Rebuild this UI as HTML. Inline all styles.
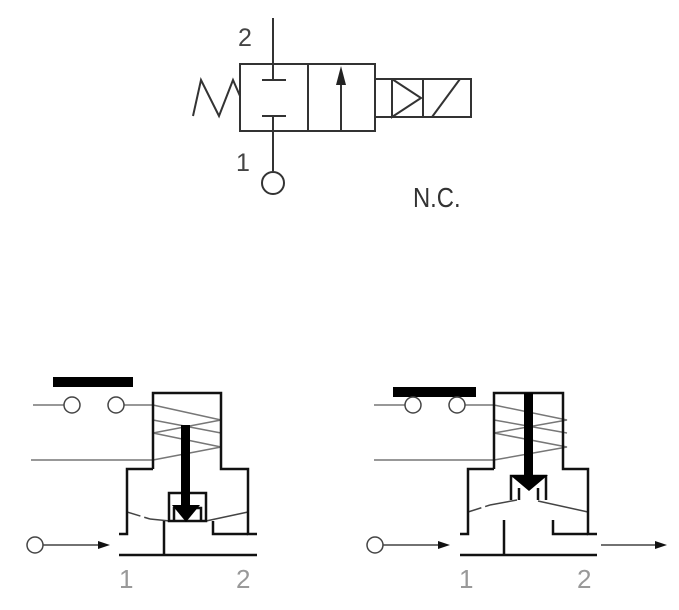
<!DOCTYPE html>
<html><head><meta charset="utf-8"><style>
html,body{margin:0;padding:0;background:#fff;width:679px;height:610px;overflow:hidden}
svg{display:block}
text{font-family:"Liberation Sans",sans-serif}
</style></head><body>
<svg width="679" height="610" viewBox="0 0 679 610" xmlns="http://www.w3.org/2000/svg">
<g fill="none" stroke="#333" stroke-width="2">
 <rect x="240" y="64" width="135" height="67"/>
 <line x1="308" y1="64" x2="308" y2="131"/>
 <line x1="273" y1="18" x2="273" y2="80"/>
 <line x1="262" y1="80" x2="286" y2="80"/>
 <line x1="262" y1="116" x2="286" y2="116"/>
 <line x1="273" y1="116" x2="273" y2="171"/>
 <circle cx="273" cy="183" r="11"/>
 <line x1="341" y1="131" x2="341" y2="80"/>
 <rect x="375" y="79" width="96" height="38"/>
 <line x1="423" y1="79" x2="423" y2="117"/>
 <polyline points="392,79 421,98 392,117 392,79"/>
 <line x1="432" y1="117" x2="460" y2="79"/>
 <polyline points="193,116 201,80 219,116 233,80 240,96"/>
</g>
<polygon points="341,66 336,85 346,85" fill="#222"/>
<text x="238" y="46" font-size="25" fill="#444">2</text>
<text x="236" y="171" font-size="25" fill="#444">1</text>
<text x="413" y="207" font-size="28" fill="#333" transform="translate(413,0) scale(0.85,1) translate(-413,0)">N.C.</text>

<rect x="53" y="377" width="80" height="10" fill="#000"/>
<g fill="none" stroke="#777" stroke-width="1.5">
 <line x1="33" y1="405" x2="64" y2="405"/>
 <line x1="124" y1="405" x2="153" y2="405"/>
 <line x1="31" y1="460" x2="153" y2="460"/>
 <polyline points="153,405 221,420 153,433 221,447 153,460 221,447"/>
 <line x1="153" y1="420" x2="221" y2="433"/>
</g>
<g fill="none" stroke="#444" stroke-width="1.5">
 <circle cx="72" cy="405" r="8"/><circle cx="116" cy="405" r="8"/>
 <circle cx="35" cy="545" r="8"/>
 <line x1="43" y1="545" x2="100" y2="545"/>
 <line x1="127" y1="512" x2="150" y2="519" stroke-dasharray="14,4"/>
 <line x1="150" y1="519" x2="170" y2="521"/>
 <line x1="206" y1="521" x2="248" y2="512"/>
</g>
<polygon points="110,545 98,541 98,549" fill="#111"/>
<g fill="none" stroke="#111" stroke-width="2.5">
 <polyline points="153,469 153,393 221,393 221,469 248,469 248,534 257,534"/>
 <polyline points="153,469 127,469 127,534 119,534"/>
 <line x1="119" y1="555" x2="257" y2="555"/>
 <line x1="164" y1="521" x2="164" y2="555"/>
 <polyline points="213,521 213,534 248,534"/>
 <rect x="169" y="493" width="37" height="28"/>
 <polyline points="174,521 174,508 201,508 201,521"/>
</g>
<rect x="181" y="425" width="9" height="82" fill="#000"/>
<polygon points="172,505 200,505 186,522" fill="#000"/>
<text x="119" y="588" font-size="26" fill="#999">1</text>
<text x="236" y="588" font-size="26" fill="#999">2</text>

<rect x="393" y="387" width="83" height="10" fill="#000"/>
<g fill="none" stroke="#777" stroke-width="1.5">
 <line x1="374" y1="405" x2="405" y2="405"/>
 <line x1="465" y1="405" x2="494" y2="405"/>
 <line x1="374" y1="460" x2="494" y2="460"/>
 <polyline points="494,405 567,420 494,433 567,447 494,460"/>
 <line x1="494" y1="420" x2="567" y2="433"/>
</g>
<g fill="none" stroke="#444" stroke-width="1.5">
 <circle cx="413" cy="405" r="8"/><circle cx="457" cy="405" r="8"/>
 <circle cx="375" cy="545" r="8"/>
 <line x1="383" y1="545" x2="440" y2="545"/>
 <line x1="601" y1="545" x2="655" y2="545"/>
 <line x1="468" y1="512" x2="490" y2="505" stroke-dasharray="14,4"/>
 <line x1="490" y1="505" x2="517" y2="500"/>
 <line x1="538" y1="501" x2="588" y2="512"/>
</g>
<polygon points="450,545 438,541 438,549" fill="#111"/>
<polygon points="667,545 655,541 655,549" fill="#111"/>
<g fill="none" stroke="#111" stroke-width="2.5">
 <polyline points="494,469 494,393 563,393 563,469 588,469 588,534 597,534"/>
 <polyline points="494,469 468,469 468,534 460,534"/>
 <line x1="460" y1="555" x2="597" y2="555"/>
 <line x1="504" y1="520" x2="504" y2="555"/>
 <polyline points="553,520 553,534 588,534"/>
 <polyline points="511,500 511,476 546,476 546,500"/>
 <line x1="519" y1="488" x2="519" y2="500"/>
 <line x1="538" y1="488" x2="538" y2="500"/>
</g>
<rect x="524" y="393" width="9" height="84" fill="#000"/>
<polygon points="510,475 548,475 529,491" fill="#000"/>
<text x="459" y="588" font-size="26" fill="#999">1</text>
<text x="577" y="588" font-size="26" fill="#999">2</text>
</svg>
</body></html>
